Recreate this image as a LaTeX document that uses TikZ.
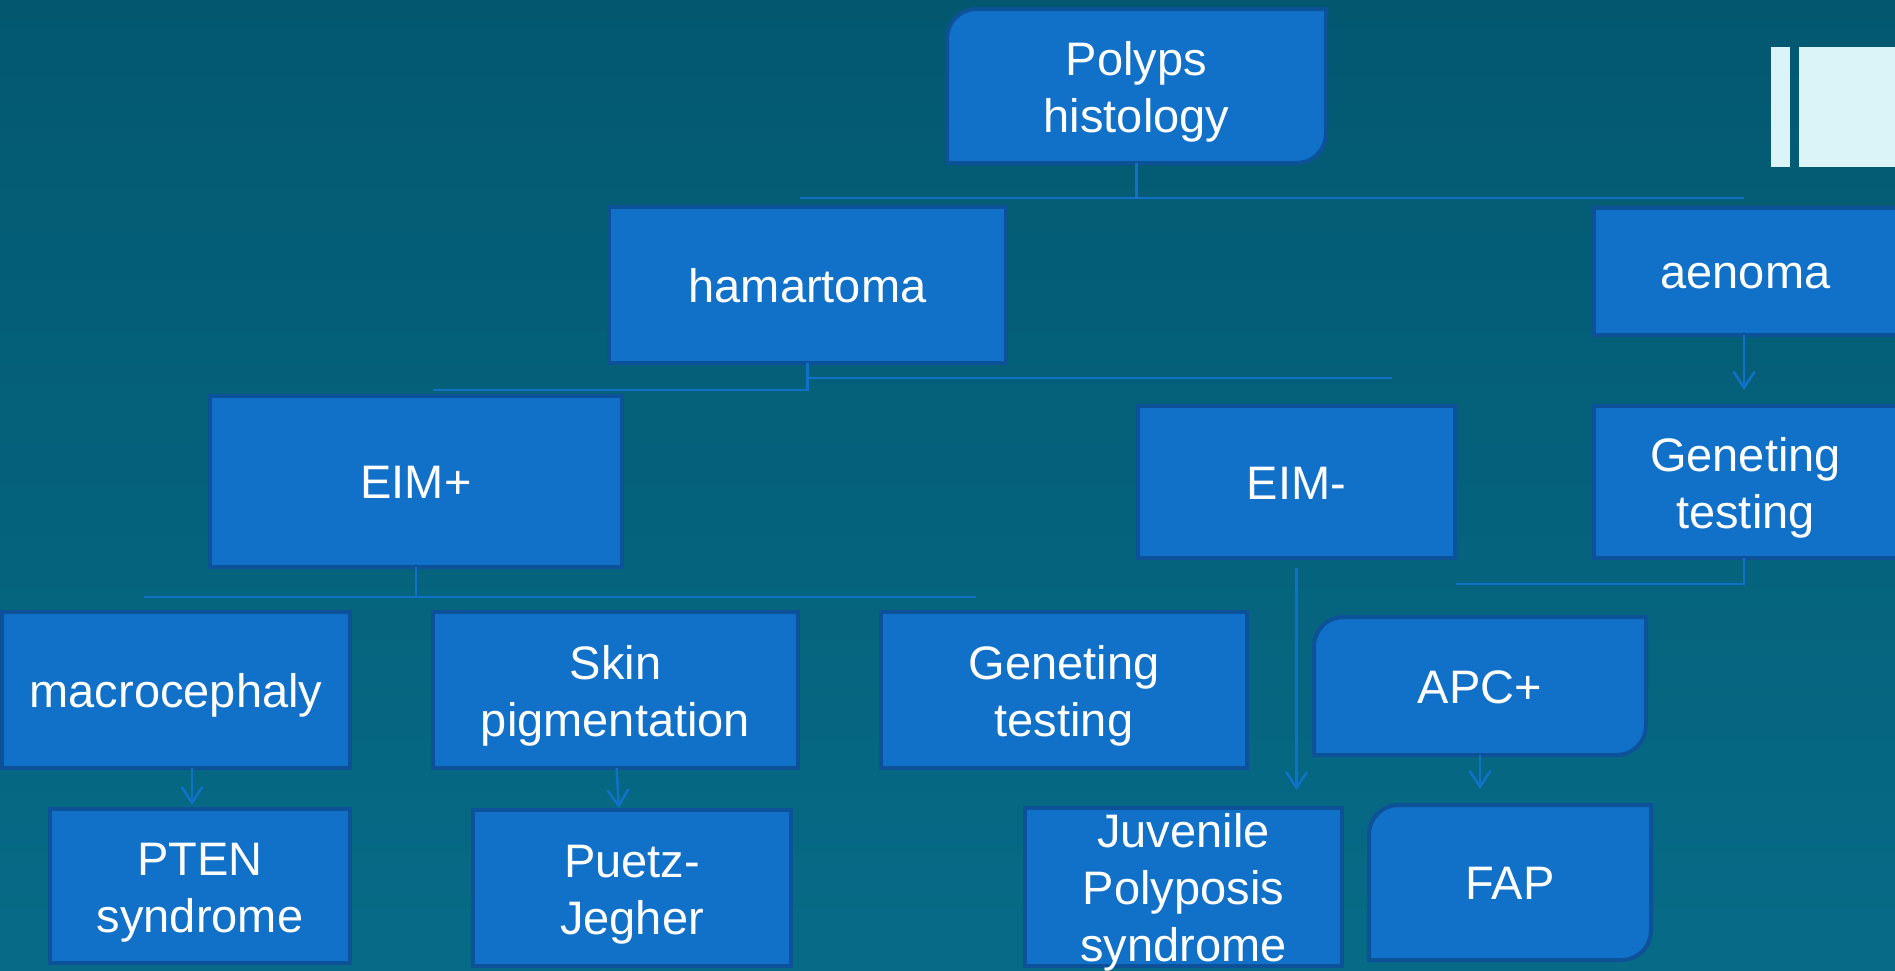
\documentclass[tikz,border=0pt]{standalone}
\usepackage{fontspec}
\setmainfont{Liberation Sans}
\usetikzlibrary{arrows.meta,calc,backgrounds}
\definecolor{bgtop}{HTML}{035870}
\definecolor{bgmid}{HTML}{045C74}
\definecolor{bgbot}{HTML}{076B87}
\definecolor{boxfill}{HTML}{1170C8}
\definecolor{boxline}{HTML}{0D5198}
\definecolor{linkblue}{HTML}{1170C8}
\definecolor{deco}{HTML}{DBF4F8}
\begin{document}
\begin{tikzpicture}[x=1pt,y=-1pt,
  font=\fontsize{47}{57}\selectfont,
  box/.style={draw=boxline, fill=boxfill, line width=4pt, text=white, align=center, inner sep=0pt, outer sep=0pt, text height=34pt, text depth=0pt},
  twolines/.style={text height=92pt},
  threelines/.style={text height=149pt},
  rbox/.style={box, draw=none, fill=none},
  roundshape/.style={draw=boxline, fill=boxfill, line width=4pt},
  ln/.style={draw=linkblue, line width=2.5pt},
  arr/.style={ln, -{Straight Barb[length=16pt,width=21pt]}}]
\useasboundingbox (0,0) rectangle (1895,970);
\begin{scope}[on background layer]
  \shade[top color=bgtop, middle color=bgmid, bottom color=bgbot] (0,0) rectangle (1895,970);
\end{scope}
% decoration top right
\fill[deco] (1771,47) rectangle (1790,167);
\fill[deco] (1799,47) rectangle (1895,167);

% nodes
\node[rbox, twolines, minimum width=379pt, minimum height=154pt] (polyps) at (1136.5,86) {Polyps\\histology};
\node[box, minimum width=397pt, minimum height=156pt] (ham) at (807.5,285) {hamartoma};
\node[box, minimum width=303pt, minimum height=127pt] (aenoma) at (1745.5,271.5) {aenoma};
\node[box, twolines, minimum width=303pt, minimum height=152pt] (gen1) at (1745.5,482) {Geneting\\testing};
\node[box, minimum width=412pt, minimum height=171pt] (eimp) at (416,481.5) {EIM+};
\node[box, minimum width=317pt, minimum height=152pt] (eimm) at (1296.5,482) {EIM-};
\node[box, minimum width=348pt, minimum height=156pt] (macro) at (176,690) {macrocephaly};
\node[box, twolines, minimum width=365pt, minimum height=156pt] (skin) at (615.5,690) {Skin\\pigmentation};
\node[box, twolines, minimum width=366pt, minimum height=156pt] (gen2) at (1064,690) {Geneting\\testing};
\node[box, twolines, minimum width=300pt, minimum height=154pt] (pten) at (200,886) {PTEN\\syndrome};
\node[box, twolines, minimum width=318pt, minimum height=156pt] (puetz) at (632,888) {Puetz-\\Jegher};
\node[box, threelines, minimum width=317pt, minimum height=158pt] (juv) at (1183.5,887) {Juvenile\\Polyposis\\syndrome};
\node[rbox, minimum width=332pt, minimum height=138pt] (apc) at (1480,686) {APC+};
\node[rbox, minimum width=282pt, minimum height=155pt] (fap) at (1510,882.5) {FAP};

% rounded boxes (top-left and bottom-right corners rounded)
\begin{scope}[on background layer]
\foreach \n in {polyps,apc,fap}{
  \draw[roundshape] ($(\n.north west)+(0,30)$) .. controls ($(\n.north west)+(0,13)$) and ($(\n.north west)+(13,0)$) .. ($(\n.north west)+(30,0)$)
    -- (\n.north east) -- ($(\n.south east)+(0,-30)$) .. controls ($(\n.south east)+(0,-13)$) and ($(\n.south east)+(-13,0)$) .. ($(\n.south east)+(-30,0)$)
    -- (\n.south west) -- cycle;
}
\end{scope}

% free ends of the tree lines
\coordinate (t1) at (800,198);
\coordinate (t2) at (1744,198);
\coordinate (h1) at (433,390);
\coordinate (h2) at (1392,378);
\coordinate (e1) at (144,597);
\coordinate (e2) at (976,597);
\coordinate (g1) at (1456,584);
\coordinate (xr) at (1744,0);

% tree lines
\draw[ln] (polyps.south) -- (polyps.south |- t1);
\draw[ln] (t1) -- (t2);
\draw[ln] (ham.south) |- (h1);
\draw[ln] (ham.south |- h2) -- (h2);
\draw[ln] (eimp.south) -- (eimp.south |- e1);
\draw[ln] (e1) -- (e2);
\draw[ln] (xr |- gen1.south) |- (g1);

% arrows
\draw[arr, shorten >=16pt] (xr |- aenoma.south) -- (xr |- gen1.north);
\draw[arr, shorten >=4pt] ($(macro.south)+(16,0)$) -- ($(pten.north)+(-8,0)$);
\draw[arr, shorten >=2pt] ($(skin.south)+(1,0)$) -- ($(puetz.north)+(-13,0)$);
\draw[arr, shorten <=10pt, shorten >=18pt] (eimm.south) -- (eimm.south |- juv.north);
\draw[arr, shorten >=16pt] (apc.south) -- (apc.south |- fap.north);
\end{tikzpicture}
\end{document}
